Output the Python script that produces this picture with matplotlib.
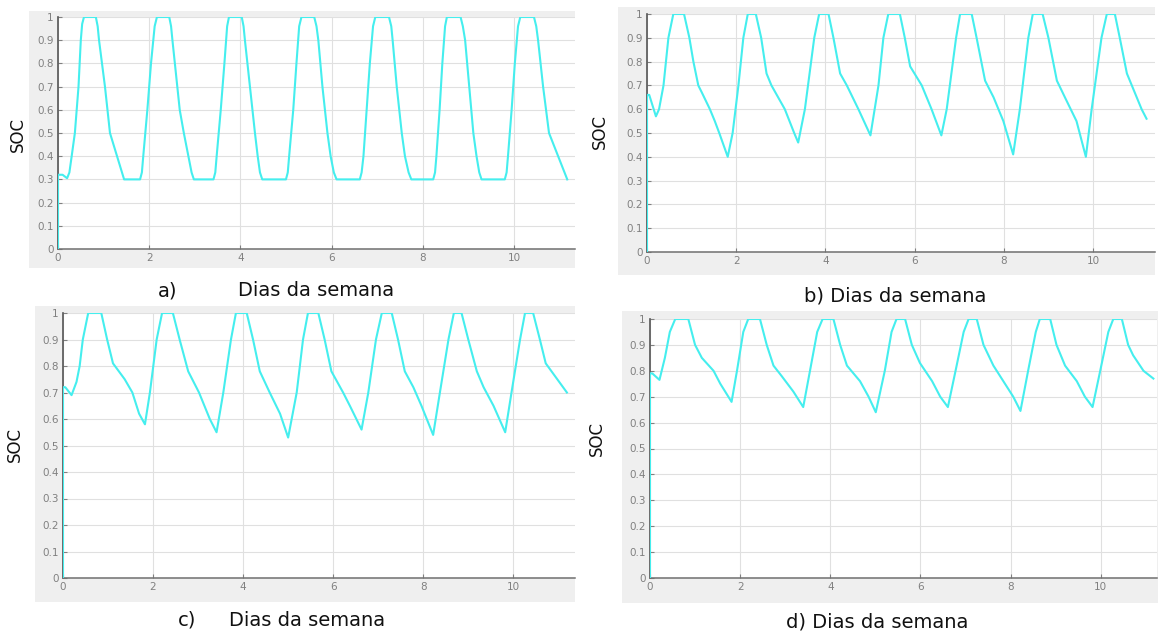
import matplotlib
matplotlib.use("Agg")
import matplotlib.pyplot as plt
from matplotlib.patches import Rectangle

W, H = 1158, 636

# SOC traces, (day, soc) pairs for each scenario
soc_a = [(0, 0), (0, 0.32), (0.1, 0.32), (0.2, 0.305), (0.25, 0.33), (0.3, 0.4), (0.37, 0.5),
         (0.45, 0.7), (0.5, 0.9), (0.53, 0.97), (0.57, 1.0), (0.83, 1.0), (0.87, 0.96),
         (0.9, 0.9), (1.03, 0.7), (1.14, 0.5), (1.45, 0.3),
         (1.8, 0.3), (1.84, 0.33), (1.87, 0.4), (1.96, 0.6), (2.04, 0.8), (2.12, 0.96),
         (2.17, 1.0), (2.44, 1.0), (2.48, 0.96), (2.51, 0.9), (2.67, 0.6), (2.76, 0.5),
         (2.86, 0.4), (2.93, 0.33), (2.98, 0.3),
         (3.41, 0.3), (3.45, 0.33), (3.48, 0.4), (3.57, 0.6), (3.65, 0.8), (3.71, 0.96),
         (3.75, 1.0), (4.03, 1.0), (4.07, 0.96), (4.1, 0.9), (4.21, 0.7), (4.32, 0.5),
         (4.38, 0.4), (4.43, 0.33), (4.48, 0.3),
         (5.0, 0.3), (5.04, 0.33), (5.07, 0.4), (5.16, 0.6), (5.23, 0.8), (5.29, 0.96),
         (5.34, 1.0), (5.62, 1.0), (5.67, 0.96), (5.71, 0.9), (5.8, 0.7), (5.91, 0.5),
         (5.98, 0.4), (6.05, 0.33), (6.11, 0.3),
         (6.62, 0.3), (6.66, 0.33), (6.7, 0.4), (6.77, 0.6), (6.84, 0.8), (6.91, 0.96),
         (6.96, 1.0), (7.26, 1.0), (7.31, 0.96), (7.34, 0.9), (7.43, 0.7), (7.54, 0.5),
         (7.61, 0.4), (7.69, 0.33), (7.75, 0.3),
         (8.23, 0.3), (8.27, 0.33), (8.3, 0.4), (8.37, 0.6), (8.43, 0.8), (8.49, 0.96),
         (8.53, 1.0), (8.83, 1.0), (8.88, 0.96), (8.93, 0.9), (9.02, 0.7), (9.11, 0.5),
         (9.18, 0.4), (9.24, 0.33), (9.29, 0.3),
         (9.8, 0.3), (9.84, 0.33), (9.87, 0.4), (9.95, 0.6), (10.02, 0.8), (10.09, 0.96),
         (10.14, 1.0), (10.44, 1.0), (10.49, 0.96), (10.53, 0.9), (10.64, 0.7),
         (10.77, 0.5), (11.17, 0.3)]

soc_b = [(0, 0), (0, 0.66), (0.05, 0.66), (0.2, 0.57), (0.27, 0.6), (0.37, 0.7), (0.48, 0.9),
         (0.59, 1.0), (0.83, 1.0), (0.95, 0.9), (1.04, 0.8), (1.15, 0.7), (1.23, 0.67),
         (1.41, 0.6), (1.52, 0.55), (1.62, 0.5), (1.81, 0.4),
         (1.92, 0.5), (2.05, 0.7), (2.16, 0.9), (2.26, 1.0), (2.44, 1.0), (2.56, 0.9),
         (2.68, 0.75), (2.79, 0.7), (3.09, 0.6), (3.3, 0.5), (3.39, 0.46),
         (3.54, 0.6), (3.75, 0.9), (3.86, 1.0), (4.07, 1.0), (4.18, 0.9), (4.33, 0.75),
         (4.48, 0.7), (4.74, 0.6), (5.01, 0.49),
         (5.19, 0.7), (5.3, 0.9), (5.41, 1.0), (5.67, 1.0), (5.78, 0.9), (5.9, 0.78),
         (6.16, 0.7), (6.38, 0.6), (6.6, 0.49),
         (6.72, 0.6), (6.93, 0.9), (7.02, 1.0), (7.28, 1.0), (7.39, 0.9), (7.58, 0.72),
         (7.77, 0.65), (7.99, 0.55), (8.21, 0.41),
         (8.36, 0.6), (8.55, 0.9), (8.65, 1.0), (8.87, 1.0), (9.0, 0.9), (9.19, 0.72),
         (9.37, 0.65), (9.63, 0.55), (9.84, 0.4),
         (9.97, 0.6), (10.19, 0.9), (10.31, 1.0), (10.49, 1.0), (10.6, 0.9), (10.76, 0.75),
         (10.87, 0.7), (11.09, 0.6), (11.2, 0.56)]

soc_c = [(0, 0), (0, 0.72), (0.05, 0.72), (0.19, 0.69), (0.3, 0.74), (0.37, 0.8), (0.44, 0.9),
         (0.56, 1.0), (0.85, 1.0), (0.98, 0.9), (1.11, 0.81), (1.37, 0.75), (1.54, 0.7),
         (1.69, 0.62), (1.82, 0.58),
         (1.93, 0.7), (2.08, 0.9), (2.2, 1.0), (2.44, 1.0), (2.59, 0.9), (2.78, 0.78),
         (3.02, 0.7), (3.26, 0.6), (3.41, 0.55),
         (3.56, 0.7), (3.73, 0.9), (3.84, 1.0), (4.08, 1.0), (4.22, 0.9), (4.37, 0.78),
         (4.59, 0.7), (4.82, 0.62), (5.0, 0.53),
         (5.19, 0.7), (5.33, 0.9), (5.44, 1.0), (5.67, 1.0), (5.81, 0.9), (5.96, 0.78),
         (6.22, 0.7), (6.37, 0.65), (6.63, 0.56),
         (6.78, 0.7), (6.95, 0.9), (7.08, 1.0), (7.3, 1.0), (7.44, 0.9), (7.59, 0.78),
         (7.78, 0.72), (7.96, 0.65), (8.22, 0.54),
         (8.37, 0.7), (8.56, 0.9), (8.68, 1.0), (8.85, 1.0), (9.0, 0.9), (9.19, 0.78),
         (9.34, 0.72), (9.56, 0.65), (9.82, 0.55),
         (9.96, 0.7), (10.15, 0.9), (10.26, 1.0), (10.44, 1.0), (10.59, 0.9), (10.72, 0.81),
         (11.19, 0.7)]

soc_d = [(0, 0), (0, 0.79), (0.05, 0.79), (0.21, 0.765), (0.33, 0.85), (0.44, 0.95),
         (0.56, 1.0), (0.85, 1.0), (1.0, 0.9), (1.15, 0.85), (1.41, 0.8), (1.56, 0.75),
         (1.81, 0.68),
         (1.93, 0.8), (2.07, 0.95), (2.18, 1.0), (2.44, 1.0), (2.59, 0.9), (2.74, 0.82),
         (2.92, 0.78), (3.18, 0.72), (3.4, 0.66),
         (3.55, 0.8), (3.71, 0.95), (3.83, 1.0), (4.07, 1.0), (4.22, 0.9), (4.37, 0.82),
         (4.66, 0.76), (4.85, 0.7), (5.01, 0.64),
         (5.21, 0.8), (5.36, 0.95), (5.47, 1.0), (5.66, 1.0), (5.81, 0.9), (5.99, 0.83),
         (6.26, 0.76), (6.44, 0.7), (6.61, 0.66),
         (6.78, 0.8), (6.96, 0.95), (7.07, 1.0), (7.25, 1.0), (7.4, 0.9), (7.62, 0.82),
         (7.84, 0.76), (8.06, 0.7), (8.22, 0.645),
         (8.39, 0.8), (8.56, 0.95), (8.65, 1.0), (8.88, 1.0), (9.02, 0.9), (9.21, 0.82),
         (9.47, 0.76), (9.65, 0.7), (9.82, 0.66),
         (9.99, 0.8), (10.17, 0.95), (10.28, 1.0), (10.47, 1.0), (10.61, 0.9), (10.72, 0.86),
         (10.95, 0.8), (11.17, 0.77)]

y_ticks = [0, 0.1, 0.2, 0.3, 0.4, 0.5, 0.6, 0.7, 0.8, 0.9, 1]
y_labels = ["0", "0.1", "0.2", "0.3", "0.4", "0.5", "0.6", "0.7", "0.8", "0.9", "1"]
x_ticks = [0, 2, 4, 6, 8, 10]

plt.rcParams['font.family'] = ['DejaVu Sans']

fig = plt.figure(figsize=(W / 100, H / 100), dpi=100)
fig.patch.set_facecolor("white")


def px_rect(l, t, r, b):
    return [l / W, 1 - b / H, (r - l) / W, (b - t) / H]


# panel: data, grey frame box, axes box, x max, SOC label pos, caption parts
panels = [
    (soc_a, (29, 11, 575, 268), (58, 17, 575, 249), 11.34, (18, 135),
     [("a)", 168, 291), ("Dias da semana", 316, 291)]),
    (soc_b, (618, 7, 1155, 275), (647, 14, 1155, 252), 11.39, (600, 132),
     [("b) Dias da semana", 895, 296)]),
    (soc_c, (35, 306, 575, 602), (63, 313, 575, 578), 11.37, (15, 445),
     [("c)", 187, 620), ("Dias da semana", 307, 620)]),
    (soc_d, (622, 311, 1158, 603), (650, 319, 1157, 578), 11.25, (597, 438),
     [("d) Dias da semana", 877, 622)]),
]

for pts, box, ax_box, xmax, soc_pos, captions in panels:
    l, t, r, b = box
    fig.add_artist(Rectangle((l / W, 1 - b / H), (r - l) / W, (b - t) / H,
                             transform=fig.transFigure, facecolor="#efefef",
                             edgecolor="none", zorder=0))
    ax = fig.add_axes(px_rect(*ax_box))
    ax.set_facecolor("white")
    xs = [p[0] for p in pts]
    ys = [p[1] for p in pts]
    ax.plot(xs, ys, color="#45eeee", lw=1.5, zorder=3, solid_joinstyle="round")
    ax.set_xlim(0, xmax)
    ax.set_ylim(0, 1)
    ax.set_yticks(y_ticks)
    ax.set_yticklabels(y_labels)
    ax.set_xticks(x_ticks)
    ax.grid(True, color="#e0e0e0", lw=0.8)
    ax.set_axisbelow(True)
    for side in ["top", "right"]:
        ax.spines[side].set_visible(False)
    ax.spines["left"].set_color("#555555")
    ax.spines["left"].set_linewidth(1.2)
    ax.spines["bottom"].set_color("#707070")
    ax.spines["bottom"].set_linewidth(1.1)
    ax.tick_params(direction="in", length=3, width=0.8, colors="#808080",
                   labelsize=7.5, pad=3)
    fig.text(soc_pos[0] / W, 1 - soc_pos[1] / H, "SOC", rotation=90,
             ha="center", va="center", fontsize=12, color="#111111")
    for txt, cx, cy in captions:
        fig.text(cx / W, 1 - cy / H, txt, ha="center", va="center",
                 fontsize=14, color="#111111")

fig.savefig("out.png", dpi=100)
